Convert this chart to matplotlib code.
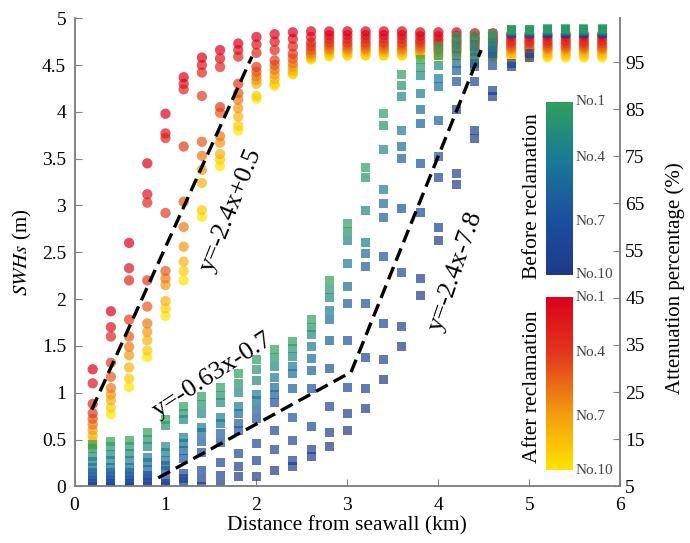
import numpy as np
import matplotlib.pyplot as plt
from matplotlib.colors import LinearSegmentedColormap

plt.rcParams['font.family'] = ['Liberation Serif', 'DejaVu Serif']
plt.rcParams['mathtext.fontset'] = 'stix'

# distance of each transect point from the seawall (km)
distance = [0.2, 0.4, 0.6, 0.8, 1.0, 1.2, 1.4, 1.6, 1.8, 2.0, 2.2, 2.4, 2.6, 2.8, 3.0,
            3.2, 3.4, 3.6, 3.8, 4.0, 4.2, 4.4, 4.6, 4.8, 5.0, 5.2, 5.4, 5.6, 5.8]

# SWHs after reclamation, one row per distance, cases No.1 .. No.10
after_swh = [
    [1.25, 1.10, 0.88, 0.78, 0.72, 0.66, 0.60, 0.54, 0.48, 0.42],
    [1.87, 1.70, 1.60, 1.32, 1.17, 1.05, 0.98, 0.92, 0.84, 0.77],
    [2.60, 2.33, 2.20, 1.78, 1.60, 1.49, 1.40, 1.27, 1.15, 1.06],
    [3.45, 3.12, 3.03, 2.20, 1.92, 1.74, 1.65, 1.56, 1.45, 1.38],
    [3.98, 3.77, 3.72, 2.92, 2.30, 2.22, 2.15, 1.98, 1.90, 1.82],
    [4.37, 4.30, 4.24, 3.63, 3.04, 2.77, 2.56, 2.40, 2.30, 2.20],
    [4.58, 4.50, 4.42, 4.17, 3.68, 3.53, 3.38, 3.24, 2.95, 2.88],
    [4.66, 4.57, 4.48, 4.05, 3.99, 3.74, 3.67, 3.55, 3.49, 3.42],
    [4.73, 4.66, 4.59, 4.30, 4.20, 4.13, 4.04, 3.95, 3.85, 3.80],
    [4.80, 4.72, 4.63, 4.48, 4.43, 4.38, 4.34, 4.30, 4.17, 4.14],
    [4.83, 4.75, 4.66, 4.55, 4.50, 4.45, 4.40, 4.35, 4.30, 4.28],
    [4.85, 4.78, 4.70, 4.62, 4.57, 4.52, 4.48, 4.44, 4.41, 4.40],
    [4.86, 4.80, 4.74, 4.70, 4.66, 4.63, 4.61, 4.59, 4.57, 4.56],
    [4.86, 4.82, 4.78, 4.74, 4.71, 4.68, 4.66, 4.64, 4.61, 4.59],
    [4.86, 4.82, 4.78, 4.74, 4.71, 4.68, 4.66, 4.64, 4.61, 4.60],
    [4.86, 4.82, 4.78, 4.74, 4.71, 4.68, 4.66, 4.64, 4.61, 4.60],
    [4.86, 4.82, 4.78, 4.74, 4.71, 4.68, 4.66, 4.64, 4.61, 4.60],
    [4.86, 4.82, 4.78, 4.74, 4.71, 4.68, 4.66, 4.64, 4.61, 4.60],
    [4.85, 4.81, 4.77, 4.74, 4.71, 4.68, 4.66, 4.64, 4.61, 4.59],
    [4.85, 4.81, 4.77, 4.74, 4.71, 4.68, 4.66, 4.64, 4.61, 4.59],
    [4.85, 4.81, 4.77, 4.74, 4.71, 4.68, 4.66, 4.64, 4.61, 4.59],
    [4.84, 4.80, 4.77, 4.74, 4.71, 4.68, 4.66, 4.63, 4.60, 4.58],
    [4.84, 4.80, 4.77, 4.74, 4.71, 4.68, 4.66, 4.63, 4.60, 4.58],
    [4.83, 4.80, 4.76, 4.73, 4.70, 4.68, 4.66, 4.63, 4.60, 4.58],
    [4.83, 4.80, 4.76, 4.73, 4.70, 4.68, 4.66, 4.63, 4.60, 4.58],
    [4.83, 4.80, 4.76, 4.73, 4.70, 4.68, 4.66, 4.63, 4.60, 4.58],
    [4.83, 4.80, 4.76, 4.73, 4.70, 4.68, 4.66, 4.63, 4.60, 4.58],
    [4.83, 4.80, 4.76, 4.73, 4.70, 4.68, 4.66, 4.63, 4.60, 4.58],
    [4.83, 4.80, 4.76, 4.73, 4.70, 4.68, 4.66, 4.63, 4.60, 4.58],
]

# SWHs before reclamation, one row per distance, cases No.1 .. No.10
before_swh = [
    [0.45, 0.40, 0.32, 0.27, 0.20, 0.15, 0.10, 0.06, 0.03, 0.00],
    [0.48, 0.43, 0.34, 0.28, 0.20, 0.15, 0.10, 0.06, 0.03, 0.00],
    [0.49, 0.43, 0.35, 0.28, 0.20, 0.15, 0.10, 0.06, 0.03, 0.00],
    [0.57, 0.50, 0.42, 0.31, 0.25, 0.18, 0.12, 0.08, 0.04, 0.00],
    [0.71, 0.65, 0.42, 0.36, 0.28, 0.22, 0.17, 0.07, 0.03, 0.00],
    [0.85, 0.78, 0.71, 0.52, 0.46, 0.38, 0.30, 0.14, 0.08, 0.04],
    [0.96, 0.87, 0.78, 0.63, 0.57, 0.48, 0.36, 0.17, 0.07, 0.00],
    [1.06, 0.97, 0.89, 0.73, 0.67, 0.56, 0.47, 0.25, 0.12, 0.02],
    [1.20, 1.10, 1.00, 0.85, 0.78, 0.67, 0.60, 0.35, 0.21, 0.10],
    [1.35, 1.25, 1.13, 0.98, 0.92, 0.82, 0.72, 0.46, 0.28, 0.10],
    [1.46, 1.38, 1.28, 1.16, 1.06, 0.98, 0.89, 0.60, 0.39, 0.17],
    [1.55, 1.47, 1.39, 1.28, 1.20, 1.05, 0.74, 0.49, 0.28, 0.21],
    [1.78, 1.70, 1.62, 1.49, 1.37, 1.24, 1.05, 0.64, 0.39, 0.32],
    [2.20, 2.10, 2.02, 1.88, 1.78, 1.56, 1.26, 0.85, 0.57, 0.42],
    [2.81, 2.72, 2.63, 2.38, 2.13, 1.95, 1.56, 1.06, 0.78, 0.60],
    [3.41, 3.30, 2.95, 2.60, 2.49, 2.35, 1.95, 1.38, 1.05, 0.83],
    [3.98, 3.85, 3.60, 3.17, 3.02, 2.87, 2.45, 1.74, 1.35, 1.14],
    [4.40, 4.28, 4.16, 3.80, 3.63, 3.50, 2.97, 2.28, 1.71, 1.49],
    [4.56, 4.47, 4.39, 4.20, 4.02, 3.88, 3.45, 2.92, 2.22, 2.04],
    [4.70, 4.60, 4.50, 4.36, 4.27, 3.91, 3.52, 3.30, 2.77, 2.63],
    [4.80, 4.74, 4.68, 4.60, 4.52, 4.44, 4.32, 4.02, 3.34, 3.22],
    [4.82, 4.76, 4.70, 4.64, 4.58, 4.52, 4.48, 4.32, 3.80, 3.72],
    [4.84, 4.80, 4.75, 4.70, 4.66, 4.62, 4.59, 4.50, 4.23, 4.16],
    [4.88, 4.88, 4.87, 4.87, 4.86, 4.86, 4.85, 4.84, 4.52, 4.48],
    [4.88, 4.88, 4.87, 4.87, 4.86, 4.86, 4.85, 4.84, 4.62, 4.58],
    [4.89, 4.88, 4.88, 4.87, 4.87, 4.86, 4.86, 4.85, 4.85, 4.84],
    [4.89, 4.88, 4.88, 4.87, 4.87, 4.86, 4.86, 4.85, 4.85, 4.84],
    [4.89, 4.88, 4.88, 4.87, 4.87, 4.86, 4.86, 4.85, 4.85, 4.84],
    [4.89, 4.88, 4.88, 4.87, 4.87, 4.86, 4.86, 4.85, 4.85, 4.84],
]

case_labels = ['No.1', 'No.4', 'No.7', 'No.10']

# fitted dashed lines
fit1_x = [0.19, 1.95]
fit1_y = [0.82, 4.59]
fit2_x = [0.92, 3.04, 4.47]
fit2_y = [0.09, 1.22, 4.66]

equations = ['y=-2.4x+0.5', 'y=-0.63x-0.7', 'y=-2.4x-7.8']
eq_pos = [(1.72, 2.95), (1.52, 1.19), (4.19, 2.30)]
eq_rot = [68, 33, 71]

after_cmap = LinearSegmentedColormap.from_list(
    'after', ['#dc001c', '#e23a1c', '#f39a10', '#ffe400'])
before_cmap = LinearSegmentedColormap.from_list(
    'before', ['#2fa05c', '#1b7a96', '#1c50a0', '#1f3a8a'])

after_arr = np.array(after_swh)
before_arr = np.array(before_swh)
n_case = after_arr.shape[1]

fig = plt.figure(figsize=(6.9, 5.43), dpi=100)
ax = fig.add_axes([0.108, 0.1044, 0.791, 0.862])

# after reclamation (circles)
for k in range(n_case - 1, -1, -1):
    ax.scatter(distance, after_arr[:, k], s=55, marker='o',
               color=after_cmap(k / (n_case - 1)), alpha=0.7,
               edgecolors='none', zorder=2)

# before reclamation (squares), No.1 drawn last
for k in range(n_case - 1, -1, -1):
    ax.scatter(distance, before_arr[:, k], s=42, marker='s',
               color=before_cmap(k / (n_case - 1)), alpha=0.7,
               edgecolors='none', zorder=3)

ax.plot(fit1_x, fit1_y, color='black', lw=2.4, dashes=(4, 2),
        dash_capstyle='butt', zorder=5)
ax.plot(fit2_x, fit2_y, color='black', lw=2.4, dashes=(4, 2),
        dash_capstyle='butt', zorder=5)

for txt, (x, y), r in zip(equations, eq_pos, eq_rot):
    ax.text(x, y, txt, fontsize=19, rotation=r, rotation_mode='anchor',
            ha='center', va='center', zorder=6)

ax.set_xlim(0, 6)
ax.set_ylim(0, 5)
ax.set_xticks(range(0, 7))
ax.set_yticks(np.arange(0, 5.01, 0.5))
ax.set_yticklabels(['0', '0.5', '1', '1.5', '2', '2.5', '3', '3.5', '4', '4.5', '5'])
ax.tick_params(direction='in', length=5, labelsize=14, color='#808080')
ax.tick_params(axis='x', pad=8)
ax.tick_params(axis='y', pad=6)
ax.set_xlabel('Distance from seawall (km)', fontsize=15.5, labelpad=1)
ax.set_ylabel(r'$\mathit{SWHs}$ (m)', fontsize=15, labelpad=6)
ax.spines['top'].set_visible(False)
for s in ['left', 'bottom', 'right']:
    ax.spines[s].set_color('#808080')
    ax.spines[s].set_linewidth(1.1)

ax2 = ax.twinx()
ax2.set_ylim(5, 104.3)
ax2.set_yticks(range(5, 96, 10))
ax2.tick_params(direction='in', length=5, labelsize=14, color='#808080')
ax2.set_ylabel('Attenuation percentage (%)', fontsize=15)
ax2.yaxis.set_label_coords(1.083, 0.445)
ax2.spines['top'].set_visible(False)
for s in ['left', 'bottom', 'right']:
    ax2.spines[s].set_color('#808080')
    ax2.spines[s].set_linewidth(1.1)

# two colour bars inside the plot
grad = np.linspace(0, 1, 256).reshape(-1, 1)
bars = [(before_cmap, 0.4936, 'Before reclamation', 0.639),
        (after_cmap, 0.1344, 'After reclamation', 0.287)]
for cmap, bottom, title, ty in bars:
    cax = fig.add_axes([0.791, bottom, 0.039, 0.3186])
    cax.imshow(grad, cmap=cmap, aspect='auto', extent=[0, 1, 1, 0])
    cax.set_xticks([])
    cax.set_yticks([])
    for sp in cax.spines.values():
        sp.set_visible(False)
    for lab, frac in zip(case_labels, [1.0, 0.68, 0.31, 0.0]):
        cax.text(1.12, frac, lab, transform=cax.transAxes, fontsize=11,
                 color='#444444', ha='left', va='center')
    fig.text(0.772, ty, title, rotation=90, fontsize=15.5,
             ha='center', va='center')

fig.savefig('out.png', dpi=100)
